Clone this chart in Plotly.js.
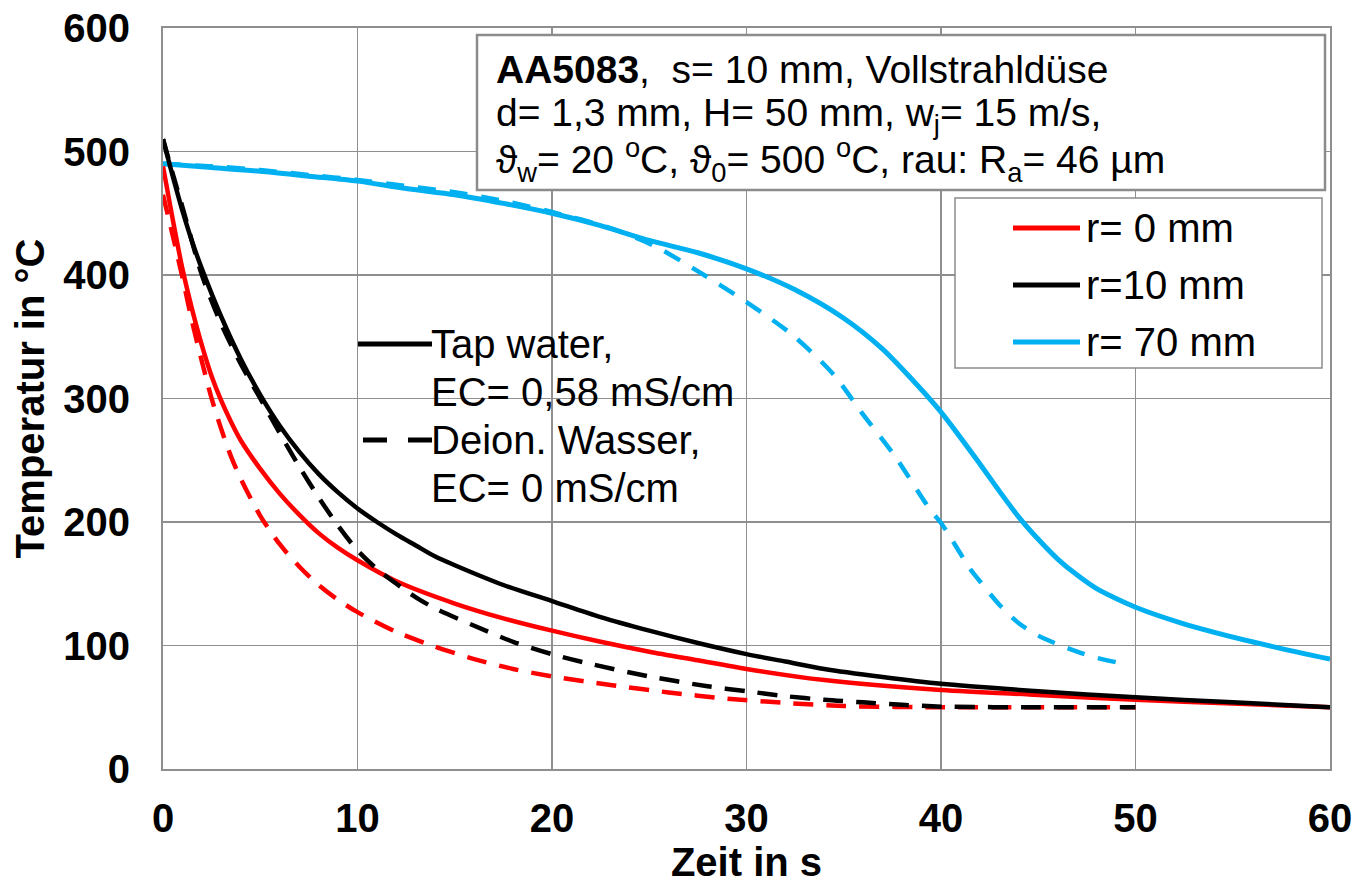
<!DOCTYPE html>
<html>
<head>
<meta charset="utf-8">
<script src="https://cdn.plot.ly/plotly-3.0.1.min.js"></script>
<style>
  html, body { margin: 0; padding: 0; background: #ffffff; }
  #chart { width: 1355px; height: 884px; }
</style>
</head>
<body>
<div id="chart"></div>
<script>
// Cooling curves, AA5083 plate quenched by a full jet nozzle
// Tap water (solid) vs. deionised water (dashed) at three radial positions

// r = 0 mm, tap water
const red_tap_t = [0, 0.5, 1, 1.5, 2, 2.5, 3, 3.5, 4, 5, 6, 7, 8, 9, 10, 12, 15, 17.5, 20, 22.5, 25, 27.5, 30, 34, 40, 45, 50, 55, 60];
const red_tap_T = [488, 445, 405, 372, 343, 318, 298, 281, 266, 243, 223, 206, 191, 179, 169, 152, 134, 122, 112, 103, 95, 88, 81, 72, 64, 60, 56, 53, 50];

// r = 0 mm, deionised water
const red_deion_t = [0, 0.5, 1, 1.5, 2, 2.5, 3, 3.5, 4, 5, 6, 7, 8, 9, 10, 12, 14, 16, 18, 20, 23, 26, 29, 32, 35, 40, 45, 50];
const red_deion_T = [465, 432, 398, 362, 330, 300, 275, 253, 235, 205, 182, 164, 149, 137, 127, 111, 99, 89, 81, 75, 68, 62, 57, 53.5, 51, 50, 50, 50];

// r = 10 mm, tap water
const black_tap_t = [0, 0.5, 1, 1.5, 2, 3, 4, 5, 6, 7, 8, 9, 10, 11, 12, 13, 14, 15, 17.5, 20, 22.5, 25, 27.5, 30, 32, 34, 37, 40, 45, 50, 55, 60];
const black_tap_T = [510, 480, 452, 427, 405, 366, 332, 303, 278, 257, 239, 224, 211, 200, 190, 181, 172, 165, 149, 136, 123, 112, 102, 93, 87, 81, 74.5, 69, 63, 58, 54, 50];

// r = 10 mm, deionised water
const black_deion_t = [0, 0.5, 1, 2, 3, 4, 5, 6, 7, 8, 9, 10, 11, 12, 13, 14, 16, 18, 20, 22, 25, 28, 30, 32, 34, 36, 38, 40, 45, 50];
const black_deion_T = [510, 482, 455, 400, 360, 328, 300, 272, 245, 220, 197, 177, 162, 150, 139, 130, 116, 103, 93, 85, 75, 67, 63, 59, 56, 54, 52, 50.5, 50, 50];

// r = 70 mm, tap water
const blue_tap_t = [0, 2.5, 5, 7.5, 10, 12.5, 15, 17.5, 20, 22.5, 25, 27.5, 30, 32.5, 35, 37, 38.3, 40, 42, 43, 44, 45, 46, 47, 48, 49, 50, 52.4, 56, 60];
const blue_tap_T = [490, 487, 484, 480, 476, 470, 465, 458, 450, 440, 428, 418, 405, 388, 365, 340, 319, 289, 247, 225, 204, 186, 170, 157, 146, 138, 131, 118, 103, 89];

// r = 70 mm, deionised water
const blue_deion_t = [0, 2.5, 5, 7.5, 10, 12.5, 15, 17.5, 20, 23, 25.2, 27.3, 30, 32.4, 34.5, 35.9, 37.6, 39.4, 40.1, 41.5, 42, 43, 44, 45, 46, 47, 48, 49, 49.6];
const blue_deion_T = [490, 488, 485, 481, 477, 472, 467, 460, 451, 438, 424, 405, 378, 351, 319, 289, 254, 211, 197, 162, 152, 133, 118, 108, 101, 95, 90, 86.5, 85];

const x_ticks = [0, 10, 20, 30, 40, 50, 60];
const y_ticks = [0, 100, 200, 300, 400, 500, 600];

const legend_radii = ['r= 0 mm', 'r=10 mm', 'r= 70 mm'];
const legend_water = ['Tap water,', 'EC= 0,58 mS/cm', 'Deion. Wasser,', 'EC= 0 mS/cm'];
const info_lines = [
  '<b>AA5083</b>,  s= 10 mm, Vollstrahldüse',
  'd= 1,3 mm, H= 50 mm, w<sub>j</sub>= 15 m/s,',
  'ϑ<sub>w</sub>= 20 <sup>o</sup>C, ϑ<sub>0</sub>= 500 <sup>o</sup>C, rau: R<sub>a</sub>= 46 µm'
];

const RED = '#ff0000', BLACK = '#000000', BLUE = '#00b0f0', GRID = '#8f8f8f';
const FONT = 'Liberation Sans, Arial, sans-serif';

// plot-area geometry in pixels, used for placing boxes and legend pieces
const W = 1355, H = 884;
const L = 163, R = 1330, T = 28, B = 769;
const px = v => (v - L) / (R - L);
const py = v => (B - v) / (B - T);

function curve(t, T_, color, dashed, width) {
  return {
    x: t, y: T_, type: 'scatter', mode: 'lines', showlegend: false, hoverinfo: 'skip',
    line: { color: color, width: width, shape: 'spline', smoothing: 0.8,
            dash: dashed ? (color === BLUE ? '18px,14px' : '20px,13px') : 'solid' }
  };
}

const traces = [
  curve(blue_deion_t, blue_deion_T, BLUE, true, 4.5),
  curve(blue_tap_t, blue_tap_T, BLUE, false, 5),
  curve(red_tap_t, red_tap_T, RED, false, 4.5),
  curve(red_deion_t, red_deion_T, RED, true, 4.5),
  curve(black_tap_t, black_tap_T, BLACK, false, 4.5),
  curve(black_deion_t, black_deion_T, BLACK, true, 4.5)
];

const shapes = [];
const annotations = [];

// info box
shapes.push({ type: 'rect', xref: 'paper', yref: 'paper', layer: 'above',
  x0: px(477), x1: px(1325), y0: py(190), y1: py(35),
  line: { color: '#8c8c8c', width: 2.5 }, fillcolor: '#ffffff' });
info_lines.forEach((txt, i) => {
  annotations.push({ xref: 'paper', yref: 'paper', x: px(494), y: py(70 + i * 45),
    xanchor: 'left', yanchor: 'middle', showarrow: false, text: txt,
    font: { family: FONT, size: 39, color: '#000' } });
});

// radius legend
shapes.push({ type: 'rect', xref: 'paper', yref: 'paper', layer: 'above',
  x0: px(955), x1: px(1322), y0: py(368), y1: py(198),
  line: { color: '#8c8c8c', width: 1.5 }, fillcolor: '#ffffff' });
[RED, BLACK, BLUE].forEach((c, i) => {
  const yy = 228 + i * 57;
  shapes.push({ type: 'line', xref: 'paper', yref: 'paper', layer: 'above',
    x0: px(1013), x1: px(1080), y0: py(yy), y1: py(yy),
    line: { color: c, width: 5 } });
  annotations.push({ xref: 'paper', yref: 'paper', x: px(1084), y: py(yy),
    xanchor: 'left', yanchor: 'middle', showarrow: false, text: legend_radii[i],
    font: { family: FONT, size: 40, color: '#000' } });
});

// water-type legend (white backing keeps the grid out of the text)
shapes.push({ type: 'rect', xref: 'paper', yref: 'paper', layer: 'between',
  x0: px(427), x1: px(793), y0: py(512), y1: py(330),
  line: { width: 0 }, fillcolor: '#ffffff' });
shapes.push({ type: 'line', xref: 'paper', yref: 'paper', layer: 'above',
  x0: px(358), x1: px(432), y0: py(344), y1: py(344),
  line: { color: BLACK, width: 5 } });
shapes.push({ type: 'line', xref: 'paper', yref: 'paper', layer: 'above',
  x0: px(363), x1: px(432), y0: py(440), y1: py(440),
  line: { color: BLACK, width: 5, dash: '24px,21px' } });
legend_water.forEach((txt, i) => {
  annotations.push({ xref: 'paper', yref: 'paper', x: px(429), y: py(344 + i * 48),
    xanchor: 'left', yanchor: 'middle', showarrow: false, text: txt,
    font: { family: FONT, size: 40, color: '#000' } });
});

const layout = {
  width: W, height: H,
  margin: { l: L, r: W - R, t: T, b: H - B },
  paper_bgcolor: '#ffffff', plot_bgcolor: '#ffffff',
  showlegend: false,
  xaxis: {
    range: [0, 60], tickvals: x_ticks, ticktext: x_ticks.map(String),
    showgrid: true, gridcolor: GRID, gridwidth: 1.3, zeroline: false,
    showline: true, linecolor: GRID, linewidth: 2, mirror: true,
    ticks: '', ticklabelstandoff: 13,
    tickfont: { family: FONT, size: 40, color: '#000', weight: 'bold' },
    title: { text: 'Zeit in s', standoff: 10,
             font: { family: FONT, size: 40, color: '#000', weight: 'bold' } },
    automargin: false, fixedrange: true
  },
  yaxis: {
    range: [0, 600], tickvals: y_ticks, ticktext: y_ticks.map(String),
    showgrid: true, gridcolor: GRID, gridwidth: 1.3, zeroline: false,
    showline: true, linecolor: GRID, linewidth: 2, mirror: true,
    ticks: '', ticklabelstandoff: 23,
    tickfont: { family: FONT, size: 40, color: '#000', weight: 'bold' },
    title: { text: 'Temperatur in °C', standoff: 6,
             font: { family: FONT, size: 40, color: '#000', weight: 'bold' } },
    automargin: false, fixedrange: true
  },
  shapes: shapes,
  annotations: annotations
};

Plotly.newPlot('chart', traces, layout, { staticPlot: true, displayModeBar: false });
</script>
</body>
</html>
